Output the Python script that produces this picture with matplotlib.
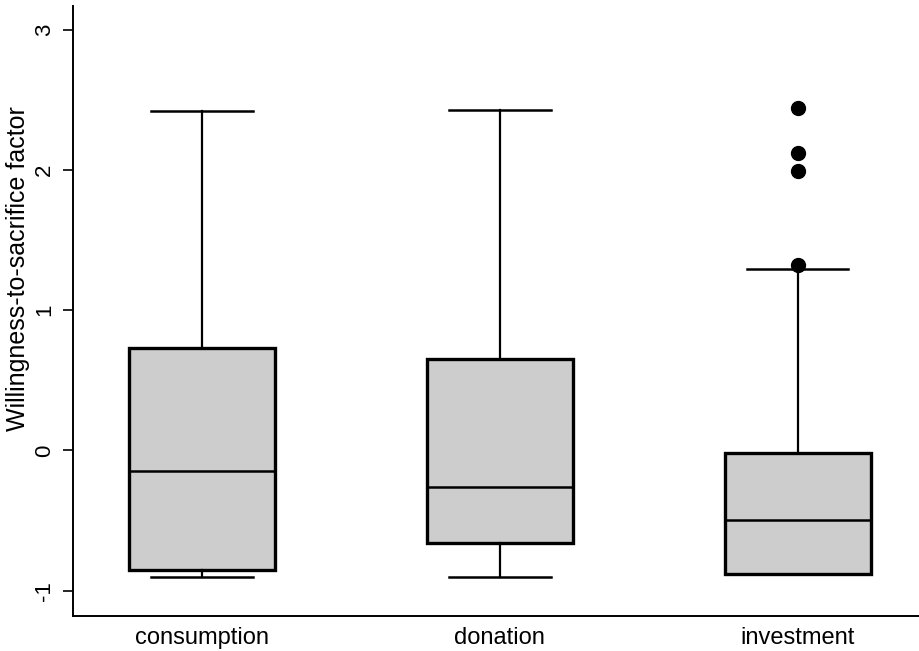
import matplotlib
matplotlib.use("Agg")
import matplotlib.pyplot as plt

# Box summaries per group (Tukey style, read as quartiles / whisker ends)
groups = ["consumption", "donation", "investment"]
whisker_low = [-0.90, -0.90, -0.88]
q1 = [-0.85, -0.66, -0.88]
medians = [-0.15, -0.26, -0.50]
q3 = [0.73, 0.65, -0.02]
whisker_high = [2.42, 2.43, 1.29]
outliers = [[], [], [1.32, 1.99, 2.12, 2.44]]

yticks = [-1, 0, 1, 2, 3]

plt.rcParams["font.family"] = ["Liberation Sans", "DejaVu Sans"]

stats = []
for i, name in enumerate(groups):
    stats.append({
        "label": name,
        "whislo": whisker_low[i],
        "q1": q1[i],
        "med": medians[i],
        "q3": q3[i],
        "whishi": whisker_high[i],
        "fliers": outliers[i],
    })

fig = plt.figure(figsize=(9.2, 6.51), dpi=100)
ax = fig.add_axes([0.0793, 0.054, 0.9207, 0.937])

ax.bxp(stats, positions=[1, 2, 3], widths=0.49, capwidths=0.34,
       patch_artist=True, showfliers=True,
       boxprops=dict(facecolor="#cdcdcd", edgecolor="black", linewidth=2.4),
       medianprops=dict(color="black", linewidth=1.8),
       whiskerprops=dict(color="black", linewidth=1.6),
       capprops=dict(color="black", linewidth=1.8),
       flierprops=dict(marker="o", markerfacecolor="black",
                       markeredgecolor="black", markersize=10))

ax.set_xlim(0.567, 3.41)
ax.set_ylim(-1.18, 3.17)
ax.set_yticks(yticks)
ax.set_yticklabels([str(v) for v in yticks], rotation=90, va="center",
                   fontsize=16)
ax.tick_params(axis="y", length=7, width=1.2, pad=6)
ax.tick_params(axis="x", length=0, labelsize=17, pad=8)
ax.set_ylabel("Willingness-to-sacrifice factor", fontsize=18)
ax.yaxis.set_label_coords(-0.051, 0.57)

for side in ("top", "right"):
    ax.spines[side].set_visible(False)
for side in ("left", "bottom"):
    ax.spines[side].set_linewidth(1.4)

fig.savefig("out.png", dpi=100, facecolor="white")
